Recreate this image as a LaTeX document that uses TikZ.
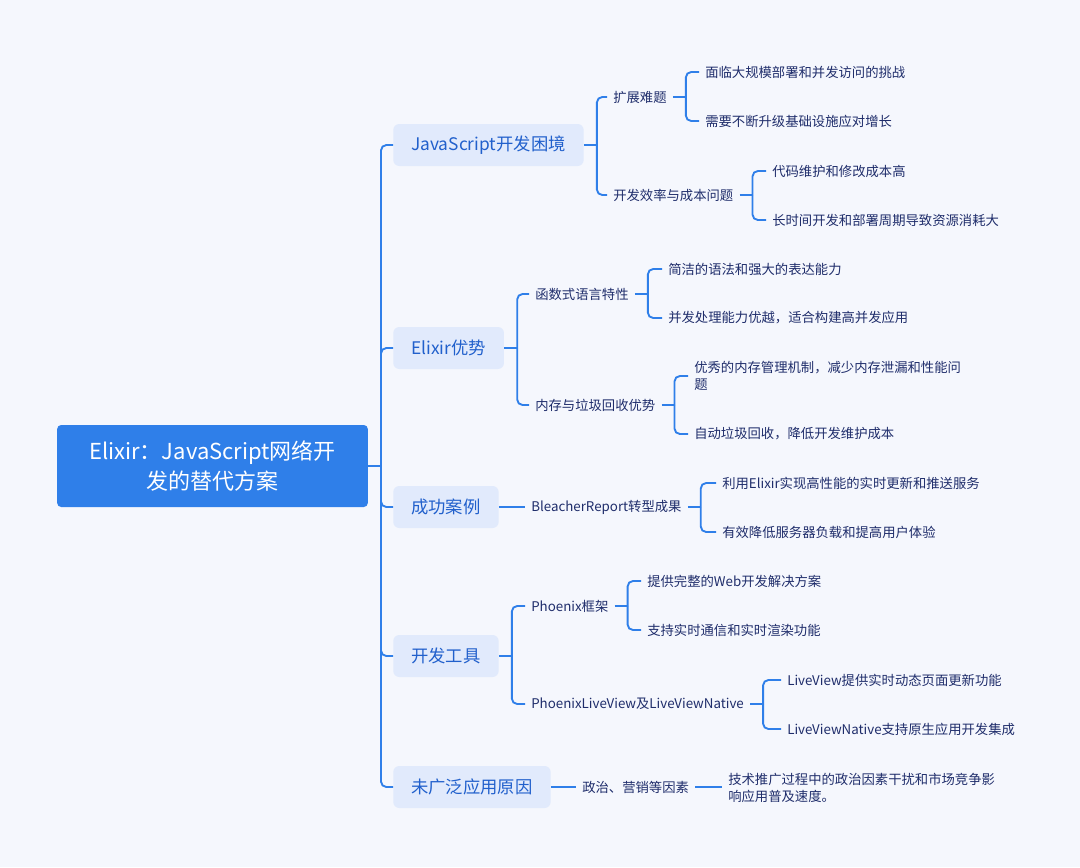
\documentclass[tikz,border=0pt]{standalone}
\usepackage{fontspec}
\setmainfont{Noto Sans CJK SC}
\usepackage{tikz}
\usetikzlibrary{positioning}
\definecolor{bgcol}{HTML}{F5F7FD}
\definecolor{mainblue}{HTML}{2F7FE9}
\definecolor{topicfill}{HTML}{E1EAFC}
\definecolor{topictext}{HTML}{2160CC}
\definecolor{leaftext}{HTML}{1F2D6B}
\tikzstyle{rootbox} = [fill=mainblue, text=white, rectangle, rounded corners=3pt, minimum width=233pt, minimum height=61.5pt, align=center, font=\fontsize{16.5}{23}\selectfont]
\tikzstyle{topic} = [fill=topicfill, text=topictext, rectangle, rounded corners=4.5pt, inner xsep=13.5pt, minimum height=31.5pt, anchor=west, font=\fontsize{13}{16}\selectfont]
\tikzstyle{sub} = [text=leaftext, inner xsep=4.5pt, inner ysep=2pt, anchor=west, align=left, font=\fontsize{10}{13}\selectfont]
\tikzstyle{link} = [draw=mainblue, line width=1.4pt, rounded corners=4pt]

\begin{document}
\begin{tikzpicture}[x=0.75pt,y=-0.75pt]
    \fill[bgcol] (0,0) rectangle (1080,867);
    \useasboundingbox (0,0) rectangle (1080,867);

    \node [rootbox] (root) at (212.5,466) {Elixir：JavaScript网络开\\发的替代方案};

    % main topics
    \node [topic] (js) at (393,145) {JavaScript开发困境};
    \node [topic] (ex) at (393,348) {Elixir优势};
    \node [topic] (cg) at (393,507) {成功案例};
    \node [topic] (tl) at (393,656) {开发工具};
    \node [topic] (yy) at (393,787) {未广泛应用原因};

    % second level
    \node [sub] (js-a) at (607,97) {扩展难题};
    \node [sub] (js-b) at (607,195) {开发效率与成本问题};
    \node [sub] (ex-a) at (529,294) {函数式语言特性};
    \node [sub] (ex-b) at (529,405) {内存与垃圾回收优势};
    \node [sub] (cg-a) at (525,507) {BleacherReport转型成果};
    \node [sub] (tl-a) at (525,606) {Phoenix框架};
    \node [sub] (tl-b) at (525,704) {PhoenixLiveView及LiveViewNative};
    \node [sub] (yy-a) at (576,787) {政治、营销等因素};

    % third level
    \node [sub] (js-a1) at (699,72) {面临大规模部署和并发访问的挑战};
    \node [sub] (js-a2) at (699,121) {需要不断升级基础设施应对增长};
    \node [sub] (js-b1) at (766,171) {代码维护和修改成本高};
    \node [sub] (js-b2) at (766,220) {长时间开发和部署周期导致资源消耗大};
    \node [sub] (ex-a1) at (662,269) {简洁的语法和强大的表达能力};
    \node [sub] (ex-a2) at (662,318) {并发处理能力优越，适合构建高并发应用};
    \node [sub] (ex-b1) at (688,376) {优秀的内存管理机制，减少内存泄漏和性能问\\题};
    \node [sub] (ex-b2) at (688,434) {自动垃圾回收，降低开发维护成本};
    \node [sub] (cg-a1) at (716,483) {利用Elixir实现高性能的实时更新和推送服务};
    \node [sub] (cg-a2) at (716,532) {有效降低服务器负载和提高用户体验};
    \node [sub] (tl-a1) at (641,581) {提供完整的Web开发解决方案};
    \node [sub] (tl-a2) at (641,630) {支持实时通信和实时渲染功能};
    \node [sub] (tl-b1) at (781,680) {LiveView提供实时动态页面更新功能};
    \node [sub] (tl-b2) at (781,729) {LiveViewNative支持原生应用开发集成};
    \node [sub] (yy-a1) at (722,788) {技术推广过程中的政治因素干扰和市场竞争影\\响应用普及速度。};

    % connectors
    \coordinate (root-j) at (381,466);
    \draw [link] (root.east) -- (root-j);
    \foreach \n in {js,ex,cg,tl,yy}
        \draw [link] (root-j) |- (\n.west);

    \foreach \p/\a/\b in {js/js-a/js-b, js-a/js-a1/js-a2, js-b/js-b1/js-b2,
                          ex/ex-a/ex-b, ex-a/ex-a1/ex-a2, ex-b/ex-b1/ex-b2,
                          cg-a/cg-a1/cg-a2, tl/tl-a/tl-b, tl-a/tl-a1/tl-a2,
                          tl-b/tl-b1/tl-b2}{
        \path (\p.east) ++(13,0) coordinate (\p-j);
        \draw [link] (\p.east) -- (\p-j);
        \draw [link] (\p-j) |- (\a.west);
        \draw [link] (\p-j) |- (\b.west);
    }

    \draw [link] (cg.east) -- (cg-a.west);
    \draw [link] (yy.east) -- (yy-a.west);
    \draw [link] (yy-a.east) -- (yy-a.east -| yy-a1.west);
\end{tikzpicture}
\end{document}
